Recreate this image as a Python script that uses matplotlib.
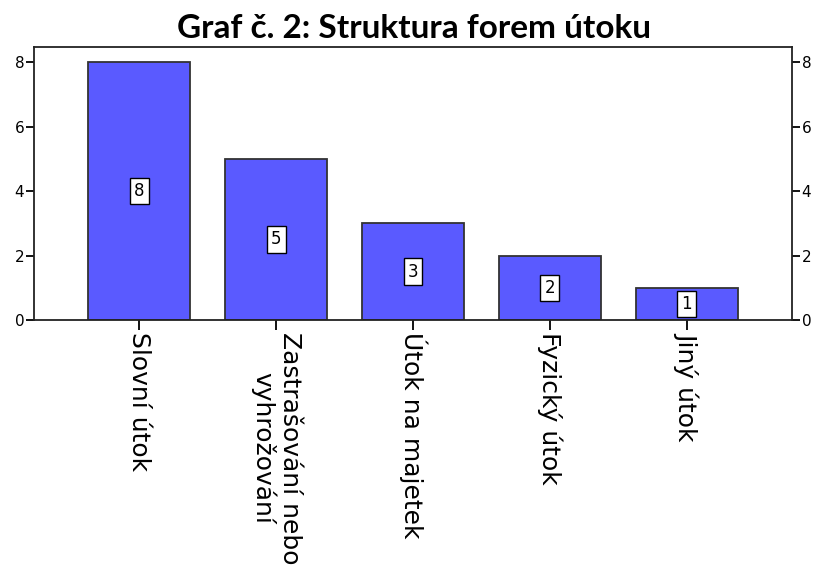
import matplotlib
matplotlib.use("Agg")
import matplotlib.pyplot as plt

categories = ["Slovní útok", "Zastrašování nebo\nvyhrožování", "Útok na majetek", "Fyzický útok", "Jiný útok"]
values = [8, 5, 3, 2, 1]
yticks = [0, 2, 4, 6, 8]
title = "Graf č. 2: Struktura forem útoku"

fig = plt.figure(figsize=(8.13, 5.65), dpi=100)
ax = fig.add_axes([34/813, 1-320/565, (792-34)/813, (320-47)/565])

x = list(range(len(categories)))
ax.bar(x, values, width=0.745, color="#5a5aff", edgecolor="#333333", linewidth=1.3, zorder=2)
for xi, v in zip(x, values):
    ax.text(xi, v/2, str(v), ha="center", va="center", fontsize=12, zorder=3,
            family="DejaVu Sans",
            bbox=dict(boxstyle="square,pad=0.25", fc="white", ec="black", lw=1))

ax.set_xlim(-0.77, 4.77)
ax.set_ylim(0, 8.47)
ax.set_yticks(yticks)
ax.set_yticklabels([str(t) for t in yticks], fontsize=11, family="DejaVu Sans")
ax.tick_params(axis="y", which="both", direction="out", length=6, left=True, right=True,
               labelleft=True, labelright=True, pad=1, width=1.3)
ax.set_xticks(x)
ax.set_xticklabels(categories, rotation=270, fontsize=18, ha="center", va="top",
                   family="DejaVu Sans", linespacing=1.1)
ax.tick_params(axis="x", direction="out", length=7.5, width=1.3, pad=1)
for s in ax.spines.values():
    s.set_linewidth(1.3)
    s.set_color("#222222")

fig.text(414/813, 1-29/565, title, ha="center", va="center", fontsize=24,
         fontweight="bold", family="Lato")

fig.savefig("out.png", dpi=100)
